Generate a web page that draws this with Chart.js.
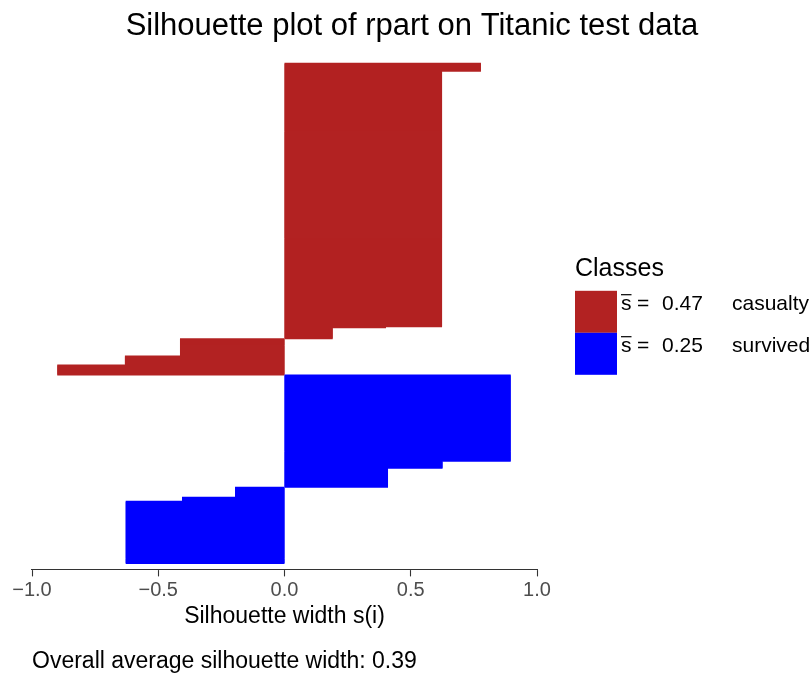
<!DOCTYPE html>
<html>
<head>
<meta charset="utf-8">
<title>Silhouette plot of rpart on Titanic test data</title>
<script src="https://cdn.jsdelivr.net/npm/chart.js@4.4.1/dist/chart.umd.min.js"></script>
<style>
  html, body { margin: 0; padding: 0; background: #ffffff; }
  #wrap { width: 812px; height: 675px; }
</style>
</head>
<body>
<div id="wrap"><canvas id="silhouette" width="812" height="675"></canvas></div>
<script>
// silhouette widths: one value per step, top to bottom,
// and how many observations sit on each step
var classNames = ['casualty', 'survived'];
var classColors = ['#B22222', '#0000FF'];
var classMeans = [0.47, 0.25];
var casualtyWidths = [0.776, 0.622, 0.40, 0.189, -0.412, -0.63, -0.898];
var casualtyCounts = [8, 255, 1, 11, 17, 9, 10];
var survivedWidths = [0.894, 0.624, 0.408, -0.194, -0.404, -0.627];
var survivedCounts = [86, 7, 19, 10, 4, 62];
var xTicks = [-1.0, -0.5, 0.0, 0.5, 1.0];
var overallMean = 0.39;

var fontFamily = '"Liberation Sans", Arial, Helvetica, sans-serif';
Chart.defaults.font.family = fontFamily;

// one bar per observation
var points = [];
var barColors = [];
function addClass(widths, counts, color) {
    for (var i = 0; i < widths.length; i++) {
        for (var k = 0; k < counts[i]; k++) {
            points.push({x: widths[i], y: points.length});
            barColors.push(color);
        }
    }
}
addClass(casualtyWidths, casualtyCounts, classColors[0]);
addClass(survivedWidths, survivedCounts, classColors[1]);

function fmt(v) {
    return (v < 0 ? '\u2212' : '') + Math.abs(v).toFixed(1);
}

// legend drawn by hand: stacked boxes with "s = mean  class"
var classLegend = {
    id: 'classLegend',
    afterDraw: function (chart) {
        var ctx = chart.ctx;
        var area = chart.chartArea;
        var left = area.right + 38;
        var box = 42;
        var top = (area.top + area.bottom) / 2 - 22.5;
        ctx.save();
        ctx.textAlign = 'left';
        ctx.textBaseline = 'alphabetic';
        ctx.fillStyle = '#000000';
        ctx.font = '25px ' + fontFamily;
        ctx.fillText('Classes', left, top - 15);
        ctx.font = '21px ' + fontFamily;
        for (var i = 0; i < classNames.length; i++) {
            var y = top + i * box;
            ctx.fillStyle = classColors[i];
            ctx.fillRect(left, y, box, box);
            ctx.fillStyle = '#000000';
            var base = y + 19.3;
            ctx.fillText('s', left + 46, base);
            var sw = ctx.measureText('s').width;
            ctx.fillRect(left + 46, base - 16, sw, 1.2);
            ctx.fillText('=', left + 62, base);
            ctx.fillText(classMeans[i].toFixed(2), left + 87, base);
            ctx.fillText(classNames[i], left + 157, base);
        }
        ctx.restore();
    }
};

var ctx = document.getElementById('silhouette');
var yPad = 6;

new Chart(ctx, {
    type: 'bar',
    data: {
        datasets: [{
            data: points,
            backgroundColor: barColors,
            borderWidth: 0,
            barPercentage: 1,
            categoryPercentage: 1,
            inflateAmount: 0.5
        }]
    },
    options: {
        indexAxis: 'y',
        responsive: false,
        animation: false,
        events: [],
        layout: {
            padding: {left: 32, right: 20, top: 0, bottom: 0}
        },
        scales: {
            x: {
                type: 'linear',
                position: 'bottom',
                min: -1,
                max: 1,
                afterBuildTicks: function (scale) {
                    scale.ticks = xTicks.map(function (v) { return {value: v}; });
                },
                grid: {
                    display: true,
                    drawOnChartArea: false,
                    drawTicks: true,
                    tickLength: 7,
                    tickWidth: 1.1,
                    color: '#333333'
                },
                border: {display: true, color: '#333333', width: 1.1},
                ticks: {
                    padding: 2.5,
                    color: '#4D4D4D',
                    font: {size: 20, lineHeight: 1.2},
                    callback: function (v) { return fmt(v); }
                },
                title: {
                    display: true,
                    text: 'Silhouette width s(i)',
                    color: '#000000',
                    font: {size: 23, lineHeight: 1.0},
                    padding: {top: 0, bottom: 9}
                }
            },
            y: {
                type: 'linear',
                reverse: true,
                display: false,
                offset: false,
                min: -0.5 - yPad,
                max: points.length - 0.5 + yPad
            },
            legendSpace: {
                type: 'linear',
                position: 'right',
                display: true,
                grid: {display: false},
                border: {display: false},
                ticks: {display: false},
                afterFit: function (scale) { scale.width = 255; }
            }
        },
        plugins: {
            legend: {display: false},
            tooltip: {enabled: false},
            title: {
                display: true,
                text: 'Silhouette plot of rpart on Titanic test data',
                color: '#000000',
                font: {size: 31, weight: 'normal', lineHeight: 1.2},
                padding: {top: 8, bottom: 12}
            },
            subtitle: {
                display: true,
                position: 'bottom',
                align: 'start',
                text: 'Overall average silhouette width: ' + overallMean.toFixed(2),
                color: '#000000',
                font: {size: 23, weight: 'normal', lineHeight: 1.2},
                padding: {top: 10, bottom: 0}
            }
        }
    },
    plugins: [classLegend]
});
</script>
</body>
</html>
